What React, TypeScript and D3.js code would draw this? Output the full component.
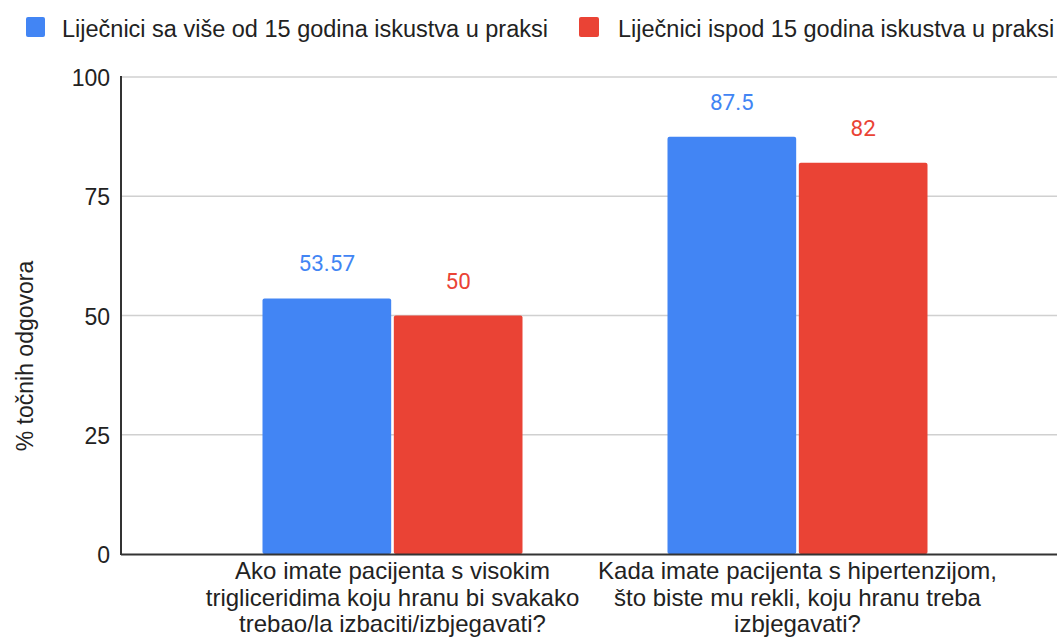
import React from "react";
import * as d3 from "d3";

const categories = [
  "Ako imate pacijenta s visokim trigliceridima koju hranu bi svakako trebao/la izbaciti/izbjegavati?",
  "Kada imate pacijenta s hipertenzijom, što biste mu rekli, koju hranu treba izbjegavati?",
];
const categoryLines = [
  ["Ako imate pacijenta s visokim", "trigliceridima koju hranu bi svakako", "trebao/la izbaciti/izbjegavati?"],
  ["Kada imate pacijenta s hipertenzijom,", "što biste mu rekli, koju hranu treba", "izbjegavati?"],
];
const seriesNames = [
  "Liječnici sa više od 15 godina iskustva u praksi",
  "Liječnici ispod 15 godina iskustva u praksi",
];
const seniorValues = [53.57, 87.5];
const juniorValues = [50, 82];
const seriesLabels = ["53.57", "87.5"];
const juniorLabels = ["50", "82"];
const yTicks = [0, 25, 50, 75, 100];
const colors = ["#4285F4", "#EA4335"];

export default function App() {
  const W = 1057, H = 642;
  const y = d3.scaleLinear().domain([0, 100]).range([554, 77]);
  const x0 = d3.scaleBand<string>().domain(categories).range([190, 1000]).paddingInner(0.358).paddingOuter(0.179);
  const x1 = d3.scaleBand<string>().domain(seriesNames).range([0, x0.bandwidth()]).paddingInner(0.02);
  const values = [seniorValues, juniorValues];
  const labels = [seriesLabels, juniorLabels];
  const axisX = 121;
  const font = "Arial, 'Liberation Sans', sans-serif";
  const dataFont = "Roboto, Arial, sans-serif";

  return (
    <div style={{ position: "absolute", left: 0, top: 0 }}>
      <svg width={W} height={H} style={{ display: "block", background: "#fff" }}>
        {/* legend */}
        <rect x={26} y={17} width={19} height={20} rx={2} fill={colors[0]} />
        <text x={62} y={37} fontFamily={font} fontSize={23.5} fill="#222">{seriesNames[0]}</text>
        <rect x={579} y={17} width={20} height={20} rx={2} fill={colors[1]} />
        <text x={618} y={37} fontFamily={font} fontSize={23.5} fill="#222">{seriesNames[1]}</text>

        {/* gridlines */}
        {yTicks.filter((t) => t !== 0).map((t) => (
          <line key={t} x1={axisX} x2={W} y1={y(t)} y2={y(t)} stroke="#d0d0d0" strokeWidth={1.5} />
        ))}
        {/* tick labels */}
        {yTicks.map((t) => (
          <text key={t} x={110} y={y(t) + 9} textAnchor="end" fontFamily={font} fontSize={23} fill="#222">{t}</text>
        ))}
        {/* y title */}
        <text transform={`translate(33,${356}) rotate(-90)`} textAnchor="middle" fontFamily={font} fontSize={23} fill="#222">% točnih odgovora</text>

        {/* bars */}
        {categories.map((c, ci) => (
          <g key={c} transform={`translate(${x0(c)},0)`}>
            {seriesNames.map((s, si) => {
              const v = values[si][ci];
              const bx = x1(s)!;
              const bw = x1.bandwidth();
              return (
                <g key={s}>
                  <rect x={bx} y={y(v)} width={bw} height={y(0) - y(v)} rx={2} fill={colors[si]} />
                  <text x={bx + bw / 2} y={y(v) - 27} textAnchor="middle" fontFamily={dataFont} fontSize={22.5} fill={colors[si]}>
                    {labels[si][ci]}
                  </text>
                </g>
              );
            })}
            {categoryLines[ci].map((ln, li) => (
              <text key={li} x={x0.bandwidth() / 2} y={579 + li * 26.5} textAnchor="middle" fontFamily={font} fontSize={24} fill="#222">{ln}</text>
            ))}
          </g>
        ))}

        {/* axes */}
        <line x1={axisX} x2={axisX} y1={76} y2={555} stroke="#333" strokeWidth={2} />
        <line x1={axisX} x2={W} y1={554.5} y2={554.5} stroke="#333" strokeWidth={2} />
      </svg>
    </div>
  );
}
